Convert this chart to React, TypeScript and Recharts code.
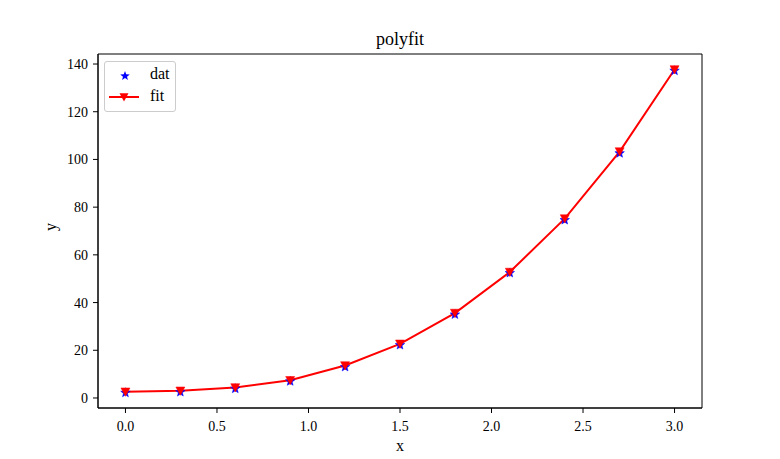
import { ComposedChart, Line, XAxis, YAxis, ReferenceArea, Label } from "recharts";

const xValues = [0, 0.3, 0.6, 0.9, 1.2, 1.5, 1.8, 2.1, 2.4, 2.7, 3.0];
const datValues = [2.2, 2.5, 3.9, 7.0, 13.0, 22.2, 35.0, 52.4, 74.6, 102.6, 137.2];
const fitValues = [2.6, 3.0, 4.4, 7.4, 13.6, 22.7, 35.6, 52.8, 75.2, 103.3, 137.7];
const xTicks = [0, 0.5, 1, 1.5, 2, 2.5, 3];
const yTicks = [0, 20, 40, 60, 80, 100, 120, 140];

const data = xValues.map((x, i) => ({ x, dat: datValues[i], fit: fitValues[i] }));

const FONT = "'Liberation Serif', serif";
const X_DOMAIN: [number, number] = [-0.15, 3.15];
const Y_DOMAIN: [number, number] = [-4.2, 144.2];

function starPoints(cx: number, cy: number, R: number, r: number) {
  const pts: string[] = [];
  for (let i = 0; i < 10; i++) {
    const rad = i % 2 === 0 ? R : r;
    const a = -Math.PI / 2 + (i * Math.PI) / 5;
    pts.push(`${cx + rad * Math.cos(a)},${cy + rad * Math.sin(a)}`);
  }
  return pts.join(" ");
}

function trianglePoints(cx: number, cy: number, s: number) {
  return `${cx - s},${cy - s * 0.85} ${cx + s},${cy - s * 0.85} ${cx},${cy + s}`;
}

function StarDot(props: any) {
  const { cx, cy } = props;
  if (cx == null || cy == null) return null;
  return <polygon points={starPoints(cx, cy, 5, 2.1)} fill="#0000ff" stroke="#0000ff" strokeWidth={0.5} />;
}

function DownDot(props: any) {
  const { cx, cy } = props;
  if (cx == null || cy == null) return null;
  return <polygon points={trianglePoints(cx, cy, 4.5)} fill="#ff0000" stroke="#ff0000" strokeWidth={0.5} />;
}

function PlotLegend() {
  return (
    <div
      style={{
        position: "absolute",
        left: 104,
        top: 61,
        width: 72,
        height: 51,
        border: "1px solid #cccccc",
        borderRadius: 3,
        background: "rgba(255,255,255,0.8)",
        fontFamily: FONT,
        fontSize: 16,
        boxSizing: "border-box",
      }}
    >
      <svg width={72} height={51} style={{ position: "absolute", left: -1, top: -1 }}>
        <polygon points={starPoints(21, 15, 5, 2.1)} fill="#0000ff" />
        <line x1={5} y1={36} x2={35} y2={36} stroke="#ff0000" strokeWidth={2} />
        <polygon points={trianglePoints(20, 36, 4.5)} fill="#ff0000" />
      </svg>
      <span style={{ position: "absolute", left: 45, top: 3 }}>dat</span>
      <span style={{ position: "absolute", left: 45, top: 25 }}>fit</span>
    </div>
  );
}

export default function App() {
  return (
    <div style={{ position: "relative", width: 780, height: 459, background: "#fff" }}>
      <style>{"body{margin:0}"}</style>
      <div
        style={{
          position: "absolute",
          top: 29,
          left: 0,
          width: 800,
          textAlign: "center",
          fontFamily: FONT,
          fontSize: 18,
        }}
      >
        polyfit
      </div>
      <ComposedChart
        width={780}
        height={459}
        data={data}
        margin={{ top: 54, right: 78, bottom: 7, left: 38 }}
      >
        <ReferenceArea
          x1={X_DOMAIN[0]}
          x2={X_DOMAIN[1]}
          y1={Y_DOMAIN[0]}
          y2={Y_DOMAIN[1]}
          fill="none"
          stroke="#000"
          strokeWidth={1}
          ifOverflow="visible"
        />
        <XAxis
          dataKey="x"
          type="number"
          domain={X_DOMAIN}
          ticks={xTicks}
          allowDataOverflow
          tickFormatter={(v: number) => v.toFixed(1)}
          height={44}
          tickSize={5}
          tickMargin={8}
          stroke="#000"
          tick={{ fill: "#000", fontSize: 14, fontFamily: FONT }}
        >
          <Label value="x" position="insideBottom" offset={1} style={{ fill: "#000", fontSize: 16, fontFamily: FONT }} />
        </XAxis>
        <YAxis
          type="number"
          domain={Y_DOMAIN}
          ticks={yTicks}
          allowDataOverflow
          width={60}
          tickSize={5}
          tickMargin={5}
          stroke="#000"
          tick={{ fill: "#000", fontSize: 14, fontFamily: FONT }}
        >
          <Label value="y" angle={-90} position="insideLeft" offset={12} style={{ fill: "#000", fontSize: 16, fontFamily: FONT }} />
        </YAxis>
        <Line
          dataKey="dat"
          stroke="none"
          dot={(p: any) => <StarDot key={`d${p.index}`} {...p} />}
          activeDot={false}
          isAnimationActive={false}
          legendType="none"
        />
        <Line
          dataKey="fit"
          type="linear"
          stroke="#ff0000"
          strokeWidth={2}
          dot={(p: any) => <DownDot key={`f${p.index}`} {...p} />}
          activeDot={false}
          isAnimationActive={false}
        />
      </ComposedChart>
      <PlotLegend />
    </div>
  );
}
